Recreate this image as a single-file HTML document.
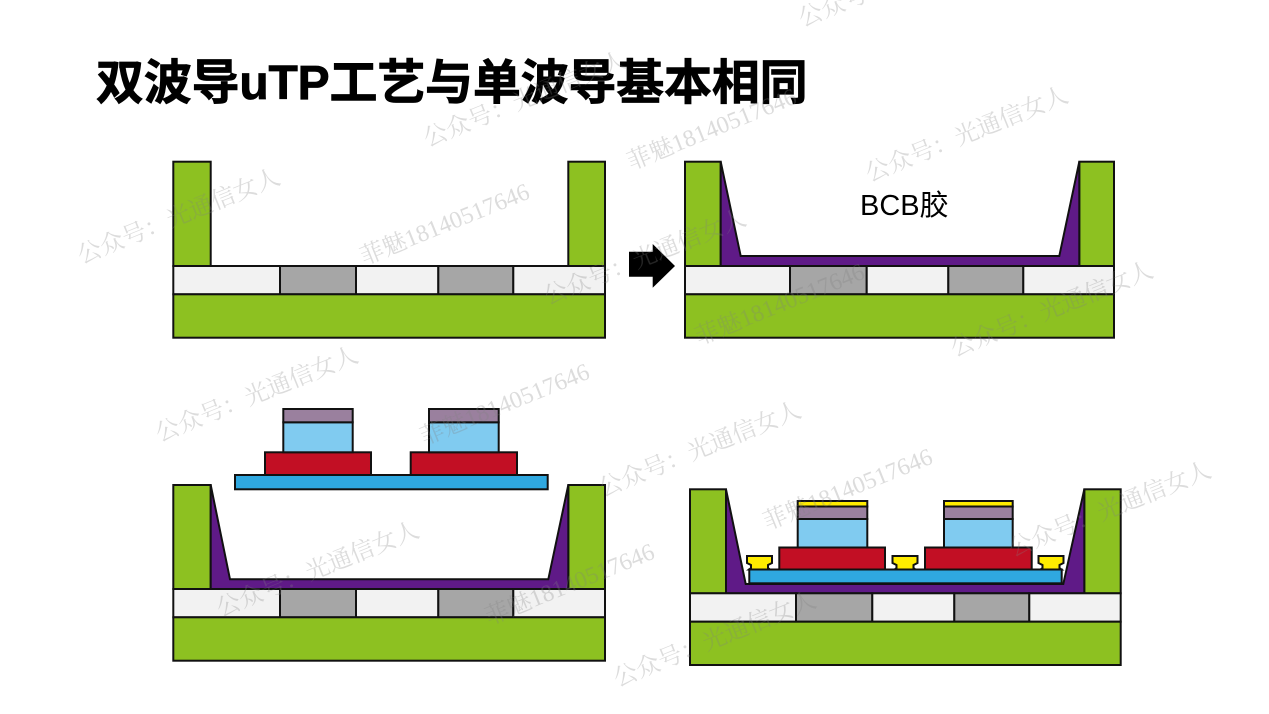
<!DOCTYPE html>
<html>
<head>
<meta charset="utf-8">
<style>
html,body{margin:0;padding:0;background:#fff;}
body{width:1269px;height:714px;overflow:hidden;position:relative;}
svg{position:absolute;left:0;top:0;}
.title{position:absolute;left:96px;top:60px;font-family:"Liberation Sans","Noto Sans CJK SC",sans-serif;font-weight:bold;font-size:48px;line-height:48px;color:#000;white-space:nowrap;letter-spacing:-0.2px;-webkit-text-stroke:0.8px #000;}
</style>
</head>
<body>
<div class="title">双波导uTP工艺与单波导基本相同</div>
<svg width="1269" height="714" viewBox="0 0 1269 714" xmlns="http://www.w3.org/2000/svg">
<g stroke="#111" stroke-width="2" stroke-linejoin="miter">
<!-- Panel 1 -->
<rect x="173.3" y="161.7" width="37.4" height="104.3" fill="#8dc121"/>
<rect x="568.3" y="161.7" width="36.7" height="104.3" fill="#8dc121"/>
<rect x="173.3" y="266" width="106.7" height="28.3" fill="#f2f2f2"/>
<rect x="280" y="266" width="76" height="28.3" fill="#a6a6a6"/>
<rect x="356" y="266" width="82.3" height="28.3" fill="#f2f2f2"/>
<rect x="438.3" y="266" width="75" height="28.3" fill="#a6a6a6"/>
<rect x="513.3" y="266" width="91.7" height="28.3" fill="#f2f2f2"/>
<rect x="173.3" y="294.3" width="431.7" height="43.4" fill="#8dc121"/>

<!-- Arrow -->
<polygon points="629,251.7 652.7,251.7 652.7,244 675,266 652.7,287.7 652.7,276.7 629,276.7" fill="#000" stroke="none"/>

<!-- Panel 2 -->
<rect x="685" y="161.7" width="35.7" height="104.3" fill="#8dc121"/>
<rect x="1079.3" y="161.7" width="34.7" height="104.3" fill="#8dc121"/>
<polygon points="720.7,161.7 740.7,256 1059.3,256 1079.3,161.7 1079.3,266 720.7,266" fill="#5f1a87"/>
<rect x="685" y="266" width="105" height="28.3" fill="#f2f2f2"/>
<rect x="790" y="266" width="76.7" height="28.3" fill="#a6a6a6"/>
<rect x="866.7" y="266" width="81.6" height="28.3" fill="#f2f2f2"/>
<rect x="948.3" y="266" width="75" height="28.3" fill="#a6a6a6"/>
<rect x="1023.3" y="266" width="90.7" height="28.3" fill="#f2f2f2"/>
<rect x="685" y="294.3" width="429" height="43.4" fill="#8dc121"/>

<!-- Panel 3 -->
<rect x="173.3" y="485" width="37.4" height="104" fill="#8dc121"/>
<rect x="568.3" y="485" width="36.7" height="104" fill="#8dc121"/>
<polygon points="210.7,485 230,579.3 548.3,579.3 568.3,485 568.3,589 210.7,589" fill="#5f1a87"/>
<rect x="173.3" y="589" width="106.7" height="28.3" fill="#f2f2f2"/>
<rect x="280" y="589" width="76" height="28.3" fill="#a6a6a6"/>
<rect x="356" y="589" width="82.3" height="28.3" fill="#f2f2f2"/>
<rect x="438.3" y="589" width="75" height="28.3" fill="#a6a6a6"/>
<rect x="513.3" y="589" width="91.7" height="28.3" fill="#f2f2f2"/>
<rect x="173.3" y="617.3" width="431.7" height="43.4" fill="#8dc121"/>
<!-- chip floating -->
<rect x="235" y="475" width="312.7" height="14.3" fill="#2fa8e0"/>
<rect x="265" y="452.3" width="106" height="22.7" fill="#c20f24"/>
<rect x="410.7" y="452.3" width="106.3" height="22.7" fill="#c20f24"/>
<rect x="283.3" y="422.3" width="69.4" height="30" fill="#80cbf0"/>
<rect x="429" y="422.3" width="69.7" height="30" fill="#80cbf0"/>
<rect x="283.3" y="409" width="69.4" height="13.3" fill="#9a809e"/>
<rect x="429" y="409" width="69.7" height="13.3" fill="#9a809e"/>

<!-- Panel 4 -->
<rect x="690" y="489.3" width="36" height="104" fill="#8dc121"/>
<rect x="1084.3" y="489.3" width="36.4" height="104" fill="#8dc121"/>
<polygon points="726,489.3 745.7,584 1063.3,584 1084.3,489.3 1084.3,593.3 726,593.3" fill="#5f1a87"/>
<rect x="690" y="593.3" width="106" height="28.4" fill="#f2f2f2"/>
<rect x="796" y="593.3" width="76.3" height="28.4" fill="#a6a6a6"/>
<rect x="872.3" y="593.3" width="82" height="28.4" fill="#f2f2f2"/>
<rect x="954.3" y="593.3" width="75" height="28.4" fill="#a6a6a6"/>
<rect x="1029.3" y="593.3" width="91.4" height="28.4" fill="#f2f2f2"/>
<rect x="690" y="621.7" width="430.7" height="43.3" fill="#8dc121"/>
<!-- chip bonded -->
<rect x="749.3" y="569.5" width="312.4" height="13.8" fill="#2fa8e0"/>
<rect x="779.3" y="547.5" width="105.7" height="22" fill="#c20f24"/>
<rect x="925" y="547.5" width="106.7" height="22" fill="#c20f24"/>
<rect x="797.7" y="519" width="69.6" height="28.5" fill="#80cbf0"/>
<rect x="944" y="519" width="68.7" height="28.5" fill="#80cbf0"/>
<rect x="797.7" y="506.5" width="69.6" height="12.5" fill="#9a809e"/>
<rect x="944" y="506.5" width="68.7" height="12.5" fill="#9a809e"/>
<rect x="797.7" y="501" width="69.6" height="5.5" fill="#ffec00"/>
<rect x="944" y="501" width="68.7" height="5.5" fill="#ffec00"/>
<!-- pads -->
<polygon points="747,556 772,556 772,563 768,565 768,568 770,569.5 749,569.5 751,568 751,565 747,563" fill="#ffec00"/>
<polygon points="892.5,556 917.5,556 917.5,563 913.5,565 913.5,568 915.5,569.5 894.5,569.5 896.5,568 896.5,565 892.5,563" fill="#ffec00"/>
<polygon points="1038.5,556 1063.5,556 1063.5,563 1059.5,565 1059.5,568 1061.5,569.5 1040.5,569.5 1042.5,568 1042.5,565 1038.5,563" fill="#ffec00"/>
</g>

<text x="860" y="215" font-family="Liberation Sans, Noto Sans CJK SC, sans-serif" font-size="29" fill="#000">BCB胶</text>

<!-- watermarks -->
<g font-family="Liberation Serif, Noto Serif CJK SC, serif" font-size="24" fill="rgba(130,130,130,0.28)" text-anchor="middle" dominant-baseline="central">
<text transform="translate(179,217) rotate(-22)">公众号：光通信女人</text>
<text transform="translate(445,225) rotate(-22)">菲魅18140517646</text>
<text transform="translate(525,100) rotate(-22)">公众号：光通信女人</text>
<text transform="translate(712,130) rotate(-22)">菲魅18140517646</text>
<text transform="translate(967,135) rotate(-22)">公众号：光通信女人</text>
<text transform="translate(645,258) rotate(-22)">公众号：光通信女人</text>
<text transform="translate(780,305) rotate(-22)">菲魅18140517646</text>
<text transform="translate(1052,310) rotate(-22)">公众号：光通信女人</text>
<text transform="translate(257,395) rotate(-22)">公众号：光通信女人</text>
<text transform="translate(505,405) rotate(-22)">菲魅18140517646</text>
<text transform="translate(700,450) rotate(-22)">公众号：光通信女人</text>
<text transform="translate(848,490) rotate(-22)">菲魅18140517646</text>
<text transform="translate(1110,510) rotate(-22)">公众号：光通信女人</text>
<text transform="translate(318,570) rotate(-22)">公众号：光通信女人</text>
<text transform="translate(570,585) rotate(-22)">菲魅18140517646</text>
<text transform="translate(715,640) rotate(-22)">公众号：光通信女人</text>
<text transform="translate(900,-20) rotate(-22)">公众号：光通信女人</text>
</g>
</svg>
</body>
</html>
